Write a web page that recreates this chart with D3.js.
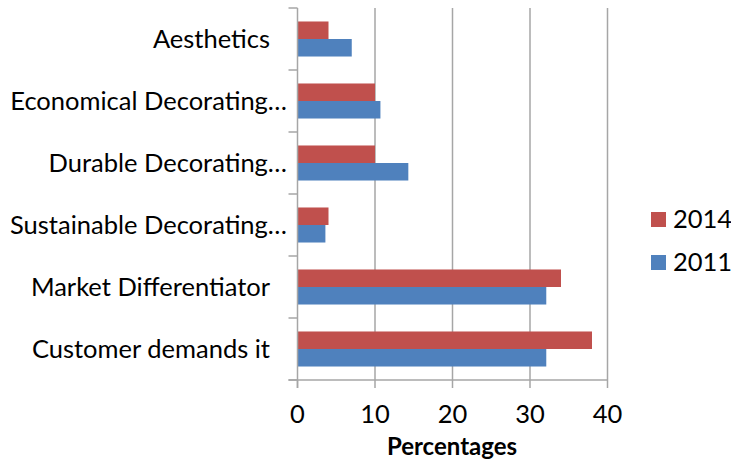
<!DOCTYPE html>
<html>
<head>
<meta charset="utf-8">
<script src="https://cdn.jsdelivr.net/npm/d3@7"></script>
<style>
  html, body { margin: 0; padding: 0; background: #fff; }
  svg { display: block; font-family: Lato, "Open Sans", sans-serif; }
</style>
</head>
<body>
<svg id="chart" width="731" height="468"></svg>
<script>
// Reasons for decorating, top to bottom
const categories = [
  "Aesthetics",
  "Economical Decorating…",
  "Durable Decorating…",
  "Sustainable Decorating…",
  "Market Differentiator",
  "Customer demands it"
];
const series = ["2014", "2011"];
const values2014 = [4, 10, 10, 4, 34, 38];
const values2011 = [7, 10.7, 14.3, 3.6, 32.1, 32.1];
const xTicks = [0, 10, 20, 30, 40];
const xTitle = "Percentages";
const colors = { "2014": "#C0504D", "2011": "#4F81BD" };

const svg = d3.select("#chart");
const grey = "#A6A6A6";
const labelSize = 25.5;

const x = d3.scaleLinear().domain([0, 40]).range([297.5, 607.5]);
const y = d3.scaleBand().domain(categories).range([8, 380]).padding(0);
const yInner = d3.scaleBand().domain(series).range([0, y.bandwidth()])
  .paddingInner(0).paddingOuter(0.77);

const rows = categories.map((c, i) => ({
  category: c,
  "2014": values2014[i],
  "2011": values2011[i]
}));

// vertical gridlines
svg.append("g")
  .selectAll("line")
  .data(xTicks.filter(t => t > 0))
  .join("line")
  .attr("x1", d => x(d)).attr("x2", d => x(d))
  .attr("y1", y.range()[0]).attr("y2", y.range()[1])
  .attr("stroke", grey).attr("stroke-width", 1.5);

// bars
const groups = svg.append("g")
  .selectAll("g")
  .data(rows)
  .join("g")
  .attr("transform", d => `translate(0,${y(d.category)})`);

groups.selectAll("rect")
  .data(d => series.map(s => ({ key: s, value: d[s] })))
  .join("rect")
  .attr("x", x(0))
  .attr("y", d => yInner(d.key))
  .attr("width", d => x(d.value) - x(0))
  .attr("height", yInner.bandwidth())
  .attr("fill", d => colors[d.key]);

// category axis
const yAxis = svg.append("g");
yAxis.append("line")
  .attr("x1", x(0)).attr("x2", x(0))
  .attr("y1", y.range()[0]).attr("y2", y.range()[1] + 8)
  .attr("stroke", grey).attr("stroke-width", 1.5);
const boundaries = categories.map(c => y(c)).concat([y.range()[1]]);
yAxis.selectAll("line.tick")
  .data(boundaries)
  .join("line")
  .attr("class", "tick")
  .attr("x1", x(0) - 9).attr("x2", x(0))
  .attr("y1", d => d).attr("y2", d => d)
  .attr("stroke", grey).attr("stroke-width", 1.5);
yAxis.selectAll("text")
  .data(categories)
  .join("text")
  .attr("x", d => d.endsWith("…") ? 287 : 270)
  .attr("y", d => y(d) + y.bandwidth() / 2 + 9)
  .attr("text-anchor", "end")
  .attr("font-size", labelSize)
  .attr("fill", "#000")
  .text(d => d);

// value axis
const xAxis = svg.append("g");
xAxis.append("line")
  .attr("x1", x(0) - 9).attr("x2", x(40))
  .attr("y1", y.range()[1]).attr("y2", y.range()[1])
  .attr("stroke", grey).attr("stroke-width", 1.5);
xAxis.selectAll("line.tick")
  .data(xTicks)
  .join("line")
  .attr("class", "tick")
  .attr("x1", d => x(d)).attr("x2", d => x(d))
  .attr("y1", y.range()[1]).attr("y2", y.range()[1] + 8)
  .attr("stroke", grey).attr("stroke-width", 1.5);
xAxis.selectAll("text")
  .data(xTicks)
  .join("text")
  .attr("x", d => x(d))
  .attr("y", 423)
  .attr("text-anchor", "middle")
  .attr("font-size", labelSize)
  .text(d => d);

svg.append("text")
  .attr("x", 452)
  .attr("y", 455)
  .attr("text-anchor", "middle")
  .attr("font-size", 24)
  .attr("font-weight", "bold")
  .text(xTitle);

// legend
const legend = svg.append("g")
  .selectAll("g")
  .data(series)
  .join("g")
  .attr("transform", (d, i) => `translate(651,${212 + i * 43})`);
legend.append("rect")
  .attr("width", 15).attr("height", 15)
  .attr("fill", d => colors[d]);
legend.append("text")
  .attr("x", 22)
  .attr("y", 16)
  .attr("font-size", labelSize)
  .text(d => d);
</script>
</body>
</html>
